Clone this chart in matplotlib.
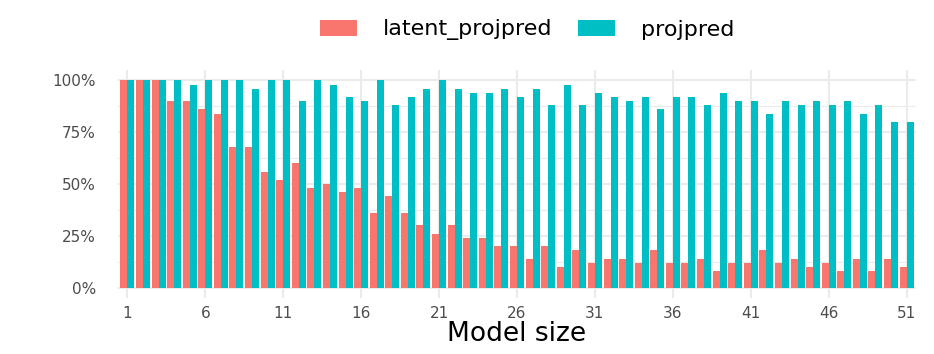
import numpy as np
import matplotlib
matplotlib.use("Agg")
import matplotlib.pyplot as plt
from matplotlib.ticker import FixedLocator, FuncFormatter

# share of runs selecting each model size (percent)
model_size = np.arange(1, 52)
latent_projpred = [100, 100, 100, 90, 90, 86, 84, 68, 68, 56,
                   52, 60, 48, 50, 46, 48, 36, 44, 36, 30,
                   26, 30, 24, 24, 20, 20, 14, 20, 10, 18,
                   12, 14, 14, 12, 18, 12, 12, 14, 8, 12,
                   12, 18, 12, 14, 10, 12, 8, 14, 8, 14, 10]
projpred = [100, 100, 100, 100, 98, 100, 100, 100, 96, 100,
            100, 90, 100, 98, 92, 90, 100, 88, 92, 96,
            100, 96, 94, 94, 96, 92, 96, 88, 98, 88,
            94, 92, 90, 92, 86, 92, 92, 88, 94, 90,
            90, 84, 90, 88, 90, 88, 90, 84, 88, 80, 80]
x_breaks = [1, 6, 11, 16, 21, 26, 31, 36, 41, 46, 51]
y_breaks = [0, 25, 50, 75, 100]

plt.rcParams['font.family'] = ['DejaVu Sans']

fig = plt.figure(figsize=(9.34, 3.54), dpi=100)
ax = fig.add_axes([118/934, 1-298/354, (916-118)/934, (298-70)/354])

w = 0.45
ax.bar(model_size - w/2, latent_projpred, width=w, color="#F8766D", label="latent_projpred")
ax.bar(model_size + w/2, projpred, width=w, color="#00BFC4", label="projpred")

ax.set_xlim(0.4, 51.6)
ax.set_ylim(-5, 105)
ax.xaxis.set_major_locator(FixedLocator(x_breaks))
ax.yaxis.set_major_locator(FixedLocator(y_breaks))
ax.yaxis.set_minor_locator(FixedLocator([12.5, 37.5, 62.5, 87.5]))
ax.yaxis.set_major_formatter(FuncFormatter(lambda v, p: "%d%%" % v))

ax.set_axisbelow(True)
ax.grid(which="major", color="#EBEBEB", linewidth=1.5)
ax.grid(which="minor", axis="y", color="#EBEBEB", linewidth=0.8)
for s in ax.spines.values():
    s.set_visible(False)
ax.tick_params(which="both", length=0)
ax.tick_params(axis="x", labelsize=11, labelcolor="#4D4D4D", pad=6)
ax.tick_params(axis="y", labelsize=11, labelcolor="#4D4D4D", pad=16)

ax.set_xlabel("Model size", fontsize=19, color="black", labelpad=0)

fig.legend(loc="center", bbox_to_anchor=(527/934, 1-30/354), ncol=2,
           frameon=False, fontsize=16, handlelength=1.66, handleheight=0.75,
           handletextpad=1.17, columnspacing=1.13)

fig.savefig("out.png", dpi=100)
